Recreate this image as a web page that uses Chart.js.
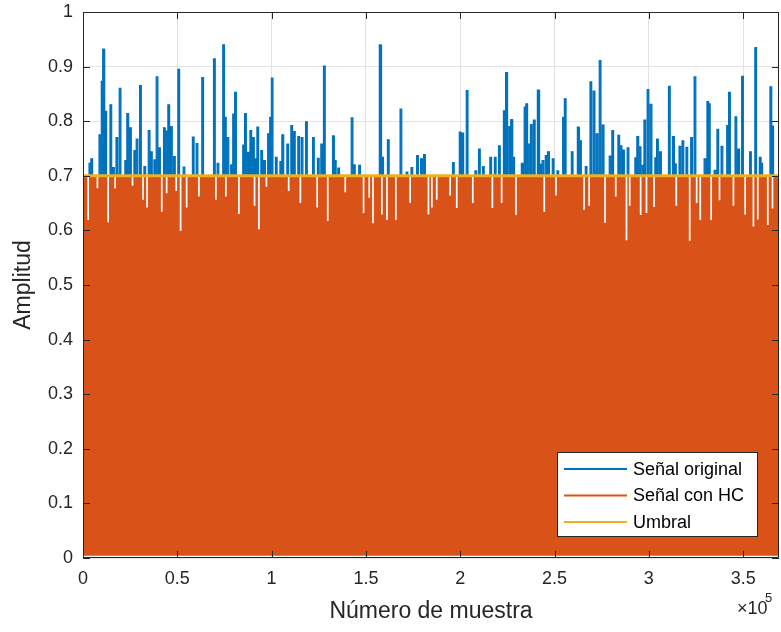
<!DOCTYPE html>
<html>
<head>
<meta charset="utf-8">
<script src="https://cdn.jsdelivr.net/npm/chart.js@4.4.1/dist/chart.umd.min.js"></script>
<style>
  html, body { margin: 0; padding: 0; background: #fff; }
  #wrap { width: 781px; height: 632px; }
</style>
</head>
<body>
<div id="wrap"><canvas id="myChart" width="781" height="632"></canvas></div>
<script>
// picos de la señal original por encima del umbral (muestra, amplitud)
const peakX = [3200, 4200, 8500, 9700, 10400, 11600, 14300, 15700, 17500, 19200, 22200, 23300, 24700, 27000, 28200,
  30000, 32300, 34600, 35800, 37600, 38800, 40100, 42700, 43500, 45000, 46400, 48000, 50300, 53100, 58000,
  60000, 63000, 69200, 71100, 74100, 75000, 76400, 78300, 79500, 80400, 84700, 85700, 87100, 88500, 89900,
  91400, 92200, 94300, 95800, 97900, 99100, 99800, 102000, 104400, 105500, 108100, 110200, 111600, 113900, 115700,
  118000, 121700, 124300, 126100, 127500, 132300, 133300, 135100, 142200, 143400, 146200, 157100, 158400, 161400,
  168100, 171300, 173900, 176900, 179000, 180600, 195900, 199500, 200900, 203200, 207800, 209700, 211800, 215700,
  218100, 220300, 222900, 224200, 225800, 226800, 227900, 232400, 233900, 234800, 236000, 237200, 238800, 240900,
  242200, 243400, 245100, 246400, 248800, 251300, 254300, 255200, 258900, 262100, 263300, 266300, 268800, 270500,
  272100, 273700, 275300, 279000, 280400, 283600, 284800, 286100, 288500, 292600, 293700, 294900, 296500, 297400,
  299100, 300700, 303200, 304100, 305700, 310400, 312500, 313600, 316000, 317600, 319700, 322200, 324000, 329300,
  330800, 331600, 334600, 336100, 338300, 341300, 342300, 345700, 347200, 349200, 353400, 356200, 358600, 359400,
  364200, 365200];
const peakY = [0.723, 0.731, 0.775, 0.873, 0.932, 0.818, 0.830, 0.715, 0.770, 0.860, 0.728, 0.814, 0.788, 0.746, 0.767,
  0.865, 0.717, 0.783, 0.744, 0.729, 0.881, 0.751, 0.788, 0.782, 0.830, 0.790, 0.735, 0.895, 0.716, 0.771,
  0.759, 0.880, 0.914, 0.723, 0.940, 0.807, 0.770, 0.720, 0.813, 0.853, 0.756, 0.814, 0.743, 0.783, 0.770,
  0.731, 0.789, 0.746, 0.728, 0.777, 0.807, 0.879, 0.734, 0.726, 0.775, 0.758, 0.792, 0.781, 0.772, 0.770,
  0.799, 0.770, 0.732, 0.758, 0.901, 0.773, 0.728, 0.714, 0.806, 0.720, 0.719, 0.940, 0.734, 0.766,
  0.822, 0.707, 0.715, 0.737, 0.731, 0.739, 0.724, 0.780, 0.778, 0.856, 0.709, 0.749, 0.717, 0.734,
  0.734, 0.755, 0.819, 0.889, 0.790, 0.803, 0.734, 0.723, 0.826, 0.832, 0.758, 0.794, 0.802, 0.857,
  0.721, 0.728, 0.737, 0.744, 0.731, 0.709, 0.807, 0.841, 0.744, 0.789, 0.764, 0.717, 0.872, 0.855,
  0.777, 0.911, 0.793, 0.736, 0.783, 0.774, 0.755, 0.747, 0.751, 0.733, 0.772, 0.753, 0.719, 0.802,
  0.858, 0.831, 0.733, 0.767, 0.744, 0.864, 0.772, 0.722, 0.754, 0.764, 0.752, 0.770, 0.881, 0.731,
  0.836, 0.832, 0.710, 0.785, 0.754, 0.792, 0.853, 0.808, 0.749, 0.882, 0.744, 0.935, 0.734, 0.723,
  0.863, 0.791];

// huecos de la señal recortada por debajo del umbral
const dipX = [2300, 7200, 12900, 16600, 25800, 31400, 33500, 41300, 43900, 49000, 51300, 54500, 61000, 70000,
  75300, 82200, 90500, 92800, 96800, 108600, 114800, 123700, 129300, 138600, 148300, 151300, 153300, 158000,
  160700, 165400, 173000, 182700, 184500, 187100, 194200, 197700, 206200, 216600, 221500, 229100, 244100,
  250300, 265200, 267900, 276300, 282000, 287700, 289400, 295200, 298300, 302300, 314100, 321200, 324900,
  326800, 332600, 337000, 344400, 350600, 355000, 357300, 362600, 365100];
const dipY = [0.619, 0.677, 0.615, 0.677, 0.682, 0.656, 0.642, 0.634, 0.668, 0.672, 0.599, 0.642, 0.662, 0.656,
  0.662, 0.630, 0.645, 0.602, 0.680, 0.672, 0.650, 0.642, 0.617, 0.670, 0.632, 0.660, 0.613, 0.629,
  0.619, 0.619, 0.650, 0.629, 0.642, 0.656, 0.664, 0.641, 0.650, 0.641, 0.650, 0.628, 0.634,
  0.664, 0.638, 0.645, 0.614, 0.662, 0.582, 0.645, 0.628, 0.632, 0.643, 0.645, 0.581, 0.650,
  0.619, 0.619, 0.655, 0.645, 0.629, 0.607, 0.620, 0.610, 0.640];

const umbral = 0.7;
const nMuestras = 369000;
const xTickLabels = ['0', '0.5', '1', '1.5', '2', '2.5', '3', '3.5'];
const yTickLabels = ['0', '0.1', '0.2', '0.3', '0.4', '0.5', '0.6', '0.7', '0.8', '0.9', '1'];
const seriesNames = ['Señal original', 'Señal con HC', 'Umbral'];
const seriesColors = ['#0072BD', '#D95319', '#EDB120'];

const FONT = "'Liberation Sans', Arial, Helvetica, sans-serif";
const INK = '#262626';
const xStep = 50000;

// cada pico como una barra fina que sale del umbral
const spikeW = 900;
let originalData = [];
peakX.forEach((x, i) => {
  originalData.push({x: x, y: umbral}, {x: x, y: peakY[i]}, {x: x + spikeW, y: peakY[i]}, {x: x + spikeW, y: umbral});
});

// señal recortada: tope en el umbral con sus huecos
const dipW = 900;
let hcData = [{x: 0, y: umbral}];
dipX.forEach((x, i) => {
  hcData.push({x: x, y: umbral}, {x: x, y: dipY[i]}, {x: x + dipW, y: dipY[i]}, {x: x + dipW, y: umbral});
});
hcData.push({x: nMuestras, y: umbral});

const umbralData = [{x: 0, y: umbral}, {x: nMuestras, y: umbral}];

// caja, marcas hacia dentro, exponente y leyenda
const matlabBox = {
  id: 'matlabBox',
  afterDraw(chart) {
    const ctx = chart.ctx, a = chart.chartArea;
    const xs = chart.scales.x, ys = chart.scales.y;
    ctx.save();
    ctx.strokeStyle = INK;
    ctx.lineWidth = 1;
    ctx.beginPath();
    ctx.rect(a.left + 0.5, a.top + 0.5, a.right - a.left - 1, a.bottom - a.top - 1);
    xs.ticks.forEach(t => {
      const px = Math.round(xs.getPixelForValue(t.value)) + 0.5;
      ctx.moveTo(px, a.bottom); ctx.lineTo(px, a.bottom - 7);
      ctx.moveTo(px, a.top); ctx.lineTo(px, a.top + 7);
    });
    ys.ticks.forEach(t => {
      const py = Math.round(ys.getPixelForValue(t.value)) + 0.5;
      ctx.moveTo(a.left, py); ctx.lineTo(a.left + 7, py);
      ctx.moveTo(a.right, py); ctx.lineTo(a.right - 7, py);
    });
    ctx.stroke();

    // x10^5
    ctx.fillStyle = INK;
    ctx.textBaseline = 'alphabetic';
    ctx.textAlign = 'left';
    ctx.font = '18px ' + FONT;
    ctx.fillText('\u00d710', 737, 614);
    ctx.font = '13px ' + FONT;
    ctx.fillText('5', 765, 602);

    // leyenda
    const lx = 557, ly = 452, lw = 200, lh = 84;
    ctx.fillStyle = '#fff';
    ctx.fillRect(lx, ly, lw, lh);
    ctx.strokeStyle = INK;
    ctx.strokeRect(lx + 0.5, ly + 0.5, lw, lh);
    ctx.font = '18px ' + FONT;
    ctx.textBaseline = 'middle';
    seriesNames.forEach((name, i) => {
      const ry = ly + 17 + i * 26.5;
      ctx.strokeStyle = seriesColors[i];
      ctx.lineWidth = 2;
      ctx.beginPath();
      ctx.moveTo(564, ry); ctx.lineTo(627, ry);
      ctx.stroke();
      ctx.fillStyle = '#000';
      ctx.fillText(name, 633, ry + 1);
    });
    ctx.restore();
  }
};

new Chart('myChart', {
  type: 'line',
  data: {
    datasets: [{
      label: seriesNames[0],
      data: originalData,
      borderColor: seriesColors[0],
      backgroundColor: seriesColors[0],
      borderWidth: 1.2,
      fill: {value: umbral},
      order: 3
    }, {
      label: seriesNames[1],
      data: hcData,
      borderColor: 'rgba(0,0,0,0)',
      backgroundColor: seriesColors[1],
      borderWidth: 0,
      fill: {value: 0.004},
      order: 2
    }, {
      label: seriesNames[2],
      data: umbralData,
      borderColor: seriesColors[2],
      borderWidth: 3,
      fill: false,
      order: 1
    }]
  },
  options: {
    responsive: false,
    animation: false,
    parsing: false,
    normalized: true,
    elements: { point: { radius: 0 }, line: { tension: 0 } },
    layout: { padding: { top: 12, right: 2, left: 0, bottom: 0 } },
    plugins: {
      legend: { display: false },
      tooltip: { enabled: false }
    },
    scales: {
      x: {
        type: 'linear',
        bounds: 'data',
        min: 0,
        max: nMuestras,
        // marcas cada 0.5e5, sin la del extremo
        afterBuildTicks: (s) => { s.ticks = xTickLabels.map((l, i) => ({value: i * xStep})); },
        afterFit: (s) => { s.height = 74; s.paddingLeft = 0; s.paddingRight = 0; },
        grid: { color: '#e3e3e3', drawTicks: false },
        border: { display: false },
        ticks: {
          maxRotation: 0,
          autoSkip: false,
          padding: 10,
          color: INK,
          font: { family: FONT, size: 18 },
          callback: (v) => xTickLabels[Math.round(v / xStep)]
        },
        title: {
          display: true,
          text: 'Número de muestra',
          color: INK,
          font: { family: FONT, size: 23 },
          padding: { top: 0, bottom: 7 }
        }
      },
      y: {
        bounds: 'data',
        min: 0,
        max: 1,
        afterFit: (s) => { s.width = 83; s.paddingTop = 0; s.paddingBottom = 0; },
        grid: { color: '#e3e3e3', drawTicks: false },
        border: { display: false },
        ticks: {
          stepSize: 0.1,
          padding: 10,
          color: INK,
          font: { family: FONT, size: 18 },
          callback: (v) => yTickLabels[Math.round(v * 10)]
        },
        title: {
          display: true,
          text: 'Amplitud',
          color: INK,
          font: { family: FONT, size: 23 },
          padding: { top: 10, bottom: 0 }
        }
      }
    }
  },
  plugins: [matlabBox]
});
</script>
</body>
</html>
